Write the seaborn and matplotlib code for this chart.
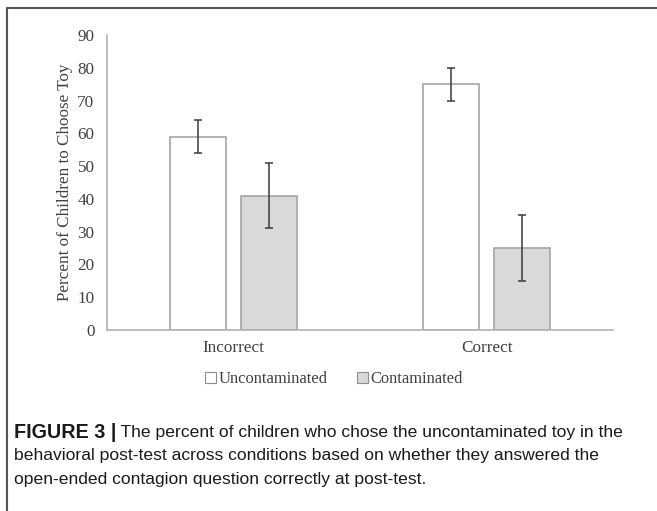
import matplotlib
matplotlib.use("Agg")
import matplotlib.pyplot as plt
import pandas as pd
import seaborn as sns
from matplotlib.lines import Line2D
from matplotlib.patches import Patch

# data
answers = ["Incorrect", "Correct"]
toys = ["Uncontaminated", "Contaminated"]
uncontaminated = [59, 75]
contaminated = [41, 25]
unc_err = [5, 5]
con_err = [10, 10]

caption_bold = "FIGURE 3 |"
caption_lines = [
    " The percent of children who chose the uncontaminated toy in the",
    "behavioral post-test across conditions based on whether they answered the",
    "open-ended contagion question correctly at post-test.",
]

df = pd.DataFrame({
    "answer": answers * 2,
    "toy": [toys[0]] * 2 + [toys[1]] * 2,
    "pct": uncontaminated + contaminated,
    "err": unc_err + con_err,
})

sns.set_style("white")
plt.rcParams["font.family"] = ["Liberation Serif", "DejaVu Serif"]

text_col = "#404040"
axis_col = "#b3b3b3"
fills = {toys[0]: "#ffffff", toys[1]: "#d9d9d9"}

fig = plt.figure(figsize=(6.57, 5.11), dpi=100)
ax = fig.add_axes([107 / 657, 1 - 330 / 511, (613 - 107) / 657, (330 - 35) / 511])

sns.barplot(data=df, x="answer", y="pct", hue="toy", order=answers, hue_order=toys,
            palette=fills, width=0.565, gap=0.21, edgecolor="#a6a6a6", linewidth=1.2,
            errorbar=None, legend=False, ax=ax)

# error bars at the centre of each bar drawn by seaborn
for bars, toy in zip(ax.containers, toys):
    sub = df[df["toy"] == toy].set_index("answer").loc[answers]
    xs = [b.get_x() + b.get_width() / 2 for b in bars]
    ax.errorbar(xs, sub["pct"], yerr=sub["err"], fmt="none", ecolor="#3a3a3a",
                elinewidth=1.1, capsize=3, capthick=1.1, zorder=5)

ax.set_xlim(-0.5, 1.5)
ax.set_ylim(0, 90)
ax.set_yticks(range(0, 91, 10))
ax.set_xlabel("")
ax.set_ylabel("Percent of Children to Choose Toy", fontsize=12.3, color=text_col, labelpad=3)
sns.despine(ax=ax)
for side in ["left", "bottom"]:
    ax.spines[side].set_color(axis_col)
    ax.spines[side].set_linewidth(1.2)
ax.tick_params(axis="y", direction="in", length=5, color=axis_col, labelsize=12.3,
               labelcolor=text_col, pad=9)
ax.tick_params(axis="x", length=0, labelsize=12.3, labelcolor=text_col, pad=7)

handles = [Patch(facecolor=fills[t], edgecolor="#8c8c8c", linewidth=0.8) for t in toys]
fig.legend(handles, toys, loc="center", bbox_to_anchor=(334 / 657, 1 - 379 / 511), ncol=2,
           frameon=False, fontsize=11.9, labelcolor=text_col, handlelength=0.65, handleheight=0.65,
           handletextpad=0.15, columnspacing=1.8)

# frame around the figure panel (cropped on the right and bottom)
frame = dict(color="#555555", linewidth=1.5, transform=fig.transFigure)
fig.add_artist(Line2D([7 / 657, 1], [1 - 8 / 511] * 2, **frame))
fig.add_artist(Line2D([7 / 657] * 2, [0, 1 - 8 / 511], **frame))

# caption
cap_font = ["Liberation Sans", "DejaVu Sans"]
cap_x = 14 / 657
cap_ys = [432, 455, 479]
bold = fig.text(cap_x, 1 - cap_ys[0] / 511, caption_bold, fontsize=14.2, fontweight="bold",
                family=cap_font, color="#1a1a1a", va="center")
fig.canvas.draw()
bb = bold.get_window_extent().transformed(fig.transFigure.inverted())
fig.text(bb.x1, 1 - cap_ys[0] / 511, caption_lines[0], fontsize=12.6, family=cap_font,
         color="#1a1a1a", va="center")
for line, y in zip(caption_lines[1:], cap_ys[1:]):
    fig.text(cap_x, 1 - y / 511, line, fontsize=12.6, family=cap_font, color="#1a1a1a", va="center")

fig.savefig("out.png", dpi=100)
